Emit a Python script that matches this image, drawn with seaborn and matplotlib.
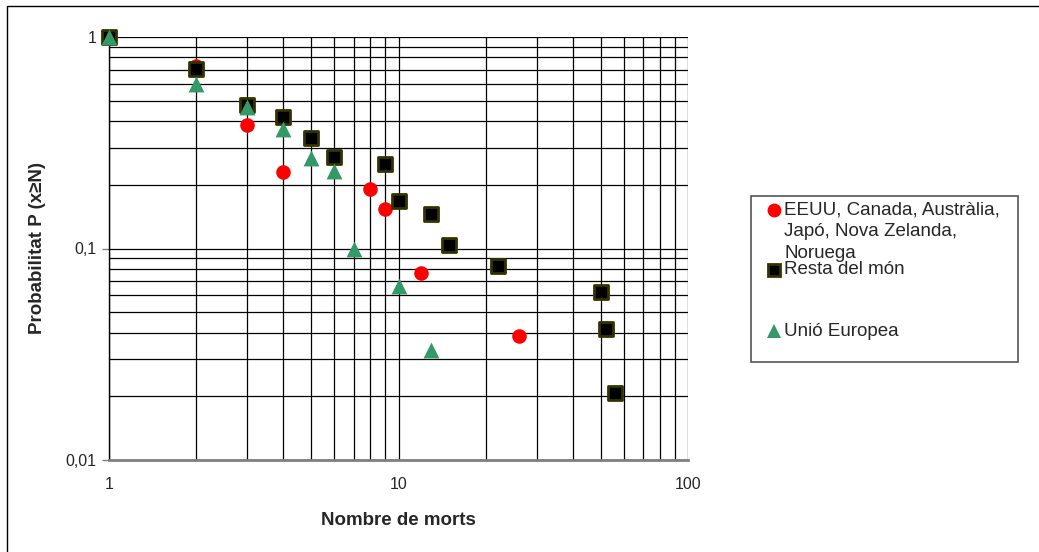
import matplotlib
matplotlib.use('Agg')
import matplotlib.pyplot as plt
import seaborn as sns
import pandas as pd
from matplotlib.lines import Line2D
from matplotlib.patches import Rectangle
from matplotlib.ticker import FixedLocator, LogLocator, NullFormatter

# dades
x_nord = [1, 2, 3, 4, 8, 9, 12, 26]
p_nord = [1, 0.731, 0.385, 0.231, 0.192, 0.154, 0.077, 0.0385]

x_resta = [1, 2, 3, 4, 5, 6, 9, 10, 13, 15, 22, 50, 52, 56]
p_resta = [1, 0.708, 0.479, 0.417, 0.333, 0.271, 0.25, 0.167, 0.146, 0.104,
           0.083, 0.0625, 0.0417, 0.0208]

x_ue = [1, 2, 3, 4, 5, 6, 7, 10, 13]
p_ue = [1, 0.6, 0.467, 0.367, 0.267, 0.233, 0.1, 0.0667, 0.0333]

noms = ['EEUU, Canada, Austràlia,\nJapó, Nova Zelanda,\nNoruega', 'Resta del món', 'Unió Europea']
yticks = [0.01, 0.1, 1]
ytick_labels = ['0,01', '0,1', '1']
xticks = [1, 10, 100]
xtick_labels = ['1', '10', '100']

sns.set_style('white')
plt.rcParams['font.family'] = ['Liberation Sans', 'DejaVu Sans']

fig = plt.figure(figsize=(10.39, 5.52), dpi=100)
ax = fig.add_axes([109 / 1039, 1 - 460 / 552, 579 / 1039, 423 / 552])

df_nord = pd.DataFrame({'x': x_nord, 'p': p_nord})
df_resta = pd.DataFrame({'x': x_resta, 'p': p_resta})
df_ue = pd.DataFrame({'x': x_ue, 'p': p_ue})

sns.scatterplot(data=df_nord, x='x', y='p', ax=ax, marker='o', s=110,
                color='#ff0000', edgecolor='#ff0000', linewidth=0, zorder=3, clip_on=False)
sns.scatterplot(data=df_resta, x='x', y='p', ax=ax, marker='s', s=100,
                color='#000000', edgecolor='#333300', linewidth=2, zorder=4, clip_on=False)
sns.scatterplot(data=df_ue, x='x', y='p', ax=ax, marker='^', s=130,
                color='#339966', edgecolor='#339966', linewidth=0, zorder=5, clip_on=False)

ax.set_xscale('log')
ax.set_yscale('log')
ax.set_xlim(1, 100)
ax.set_ylim(0.01, 1)

# quadrícula
ax.xaxis.set_minor_locator(LogLocator(base=10, subs=range(2, 10)))
ax.yaxis.set_minor_locator(LogLocator(base=10, subs=range(2, 10)))
ax.xaxis.set_minor_formatter(NullFormatter())
ax.yaxis.set_minor_formatter(NullFormatter())
ax.grid(True, which='both', color='black', linewidth=0.9)
ax.set_axisbelow(True)

ax.xaxis.set_major_locator(FixedLocator(xticks))
ax.set_xticklabels(xtick_labels)
ax.yaxis.set_major_locator(FixedLocator(yticks))
ax.set_yticklabels(ytick_labels)
ax.tick_params(axis='x', which='both', length=0, pad=12, labelsize=11.5)
ax.tick_params(axis='y', which='major', length=5, color='#808080', width=1, pad=4, labelsize=11.5, left=True)
ax.tick_params(axis='y', which='minor', length=0)

for s in ['top', 'right']:
    ax.spines[s].set_visible(False)
ax.spines['left'].set_color('black')
ax.spines['left'].set_linewidth(1)
ax.spines['bottom'].set_color('#808080')
ax.spines['bottom'].set_linewidth(2)

ax.set_xlabel('Nombre de morts', fontsize=13.5, fontweight='bold')
ax.set_ylabel('Probabilitat P (x≥N)', fontsize=13.5, fontweight='bold')
ax.xaxis.set_label_coords(0.5, -0.122)
ax.yaxis.set_label_coords(-0.109, 0.5)

# llegenda
W, H = 1039, 552
fig.add_artist(Rectangle((751 / W, 1 - 362 / H), 267 / W, 166 / H, transform=fig.transFigure,
                         facecolor='white', edgecolor='#555555', linewidth=1.2))
entrades = [('o', '#ff0000', '#ff0000', 210),
            ('s', '#000000', '#333300', 270),
            ('^', '#339966', '#339966', 331)]
for i, (m, fc, ec, yp) in enumerate(entrades):
    fig.add_artist(Line2D([774 / W], [1 - yp / H], marker=m, markersize=10 if m != 's' else 8,
                          markerfacecolor=fc, markeredgecolor=ec, markeredgewidth=2 if m == 's' else 0,
                          linestyle='none', transform=fig.transFigure))
    fig.text(784 / W, 1 - yp / H, noms[i].split('\n')[0], fontsize=13.5, va='center', ha='left')
    for j, linia in enumerate(noms[i].split('\n')[1:], start=1):
        fig.text(784 / W, 1 - (yp + 21.7 * j) / H, linia, fontsize=13.5, va='center', ha='left')

# marc exterior
fig.add_artist(Rectangle((7 / W, -0.05), 1.1, 1 - 6 / H + 0.05, transform=fig.transFigure,
                         facecolor='none', edgecolor='black', linewidth=1))

fig.savefig('out.png', dpi=100)
